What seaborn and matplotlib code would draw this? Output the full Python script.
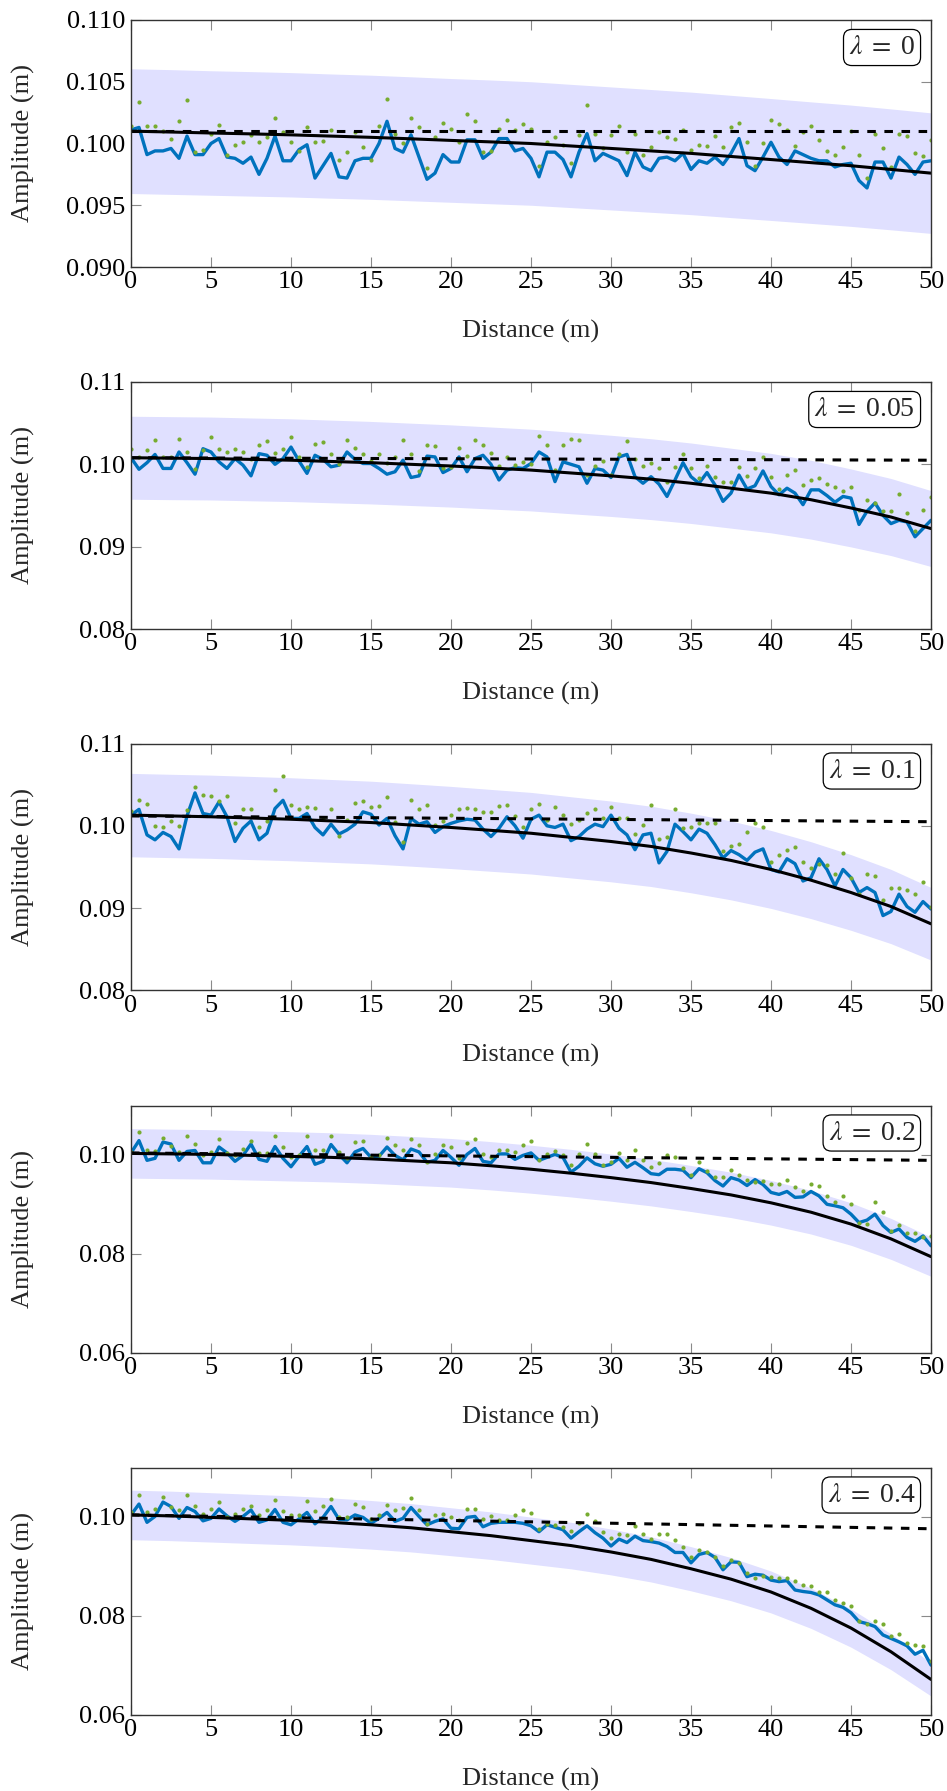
import numpy as np
import pandas as pd
import matplotlib
matplotlib.use("Agg")
import matplotlib.pyplot as plt
import seaborn as sns

# ---------------- data ----------------
DIST = np.linspace(0, 50, 101)          # measurement stations every 0.5 m
CURVE_X = [0, 2.5, 5, 7.5, 10, 12.5, 15, 17.5, 20, 22.5, 25,
           27.5, 30, 32.5, 35, 37.5, 40, 42.5, 45, 47.5, 50]
DASH_X = [0, 50]

LAMBDAS = ["0", "0.05", "0.1", "0.2", "0.4"]

BLUE_0 = [0.1011, 0.1013, 0.0991, 0.0994, 0.0994, 0.0996, 0.0988, 0.1006, 0.0991, 0.0991,
          0.1000, 0.1004, 0.0989, 0.0988, 0.0984, 0.0989, 0.0975, 0.0988, 0.1006, 0.0986,
          0.0986, 0.0995, 0.0999, 0.0972, 0.0982, 0.0992, 0.0973, 0.0972, 0.0986, 0.0988,
          0.0988, 0.1000, 0.1018, 0.0996, 0.0993, 0.1007, 0.0989, 0.0971, 0.0976, 0.0991,
          0.0985, 0.0985, 0.1003, 0.1003, 0.0988, 0.0993, 0.1004, 0.1004, 0.0994, 0.0996,
          0.0988, 0.0973, 0.0993, 0.0993, 0.0987, 0.0973, 0.0993, 0.1008, 0.0986, 0.0992,
          0.0989, 0.0986, 0.0974, 0.0993, 0.0981, 0.0978, 0.0988, 0.0989, 0.0986, 0.0992,
          0.0979, 0.0986, 0.0984, 0.0989, 0.0983, 0.0992, 0.1004, 0.0982, 0.0978, 0.0989,
          0.1001, 0.0989, 0.0983, 0.0994, 0.0991, 0.0988, 0.0986, 0.0986, 0.0981, 0.0983,
          0.0984, 0.0970, 0.0964, 0.0985, 0.0985, 0.0972, 0.0989, 0.0983, 0.0975, 0.0985, 0.0986]
GREEN_0 = [0.1014, 0.1034, 0.1014, 0.1014, 0.1010, 0.1004, 0.1018, 0.1035, 0.0993, 0.0995,
           0.1008, 0.1015, 0.0991, 0.0999, 0.1001, 0.1007, 0.1001, 0.1005, 0.1021, 0.1009,
           0.1001, 0.0994, 0.1013, 0.1001, 0.1002, 0.1011, 0.0987, 0.0993, 0.1009, 0.0997,
           0.0987, 0.1014, 0.1036, 0.1008, 0.1000, 0.1021, 0.1013, 0.0980, 0.1005, 0.1017,
           0.1012, 0.1001, 0.1024, 0.1018, 0.0993, 0.0994, 0.1012, 0.1019, 0.1011, 0.1016,
           0.1012, 0.0982, 0.1001, 0.1005, 0.0999, 0.0984, 0.1007, 0.1031, 0.1008, 0.0996,
           0.1007, 0.1014, 0.0993, 0.1008, 0.0991, 0.0997, 0.1009, 0.1005, 0.1004, 0.1011,
           0.0995, 0.0999, 0.0998, 0.1006, 0.0997, 0.1013, 0.1017, 0.1001, 0.0982, 0.1000,
           0.1019, 0.1016, 0.1011, 0.0998, 0.1009, 0.1014, 0.1003, 0.0994, 0.0991, 0.0997,
           0.1010, 0.0991, 0.0972, 0.1008, 0.0996, 0.0981, 0.1008, 0.1006, 0.0992, 0.0990, 0.1003]
SOLID_0 = [0.1010, 0.10093, 0.10085, 0.10078, 0.1007, 0.1006, 0.1005, 0.10038, 0.10025, 0.10013, 0.1000,
           0.0998, 0.0996, 0.0994, 0.0992, 0.09895, 0.0987, 0.09845, 0.0982, 0.0979, 0.0976]
UPPER_0 = [0.10605, 0.10598, 0.10589, 0.10582, 0.10574, 0.10563, 0.10553, 0.10540, 0.10526, 0.10514, 0.10500,
           0.10479, 0.10458, 0.10437, 0.10416, 0.10390, 0.10364, 0.10337, 0.10311, 0.10280, 0.10248]
LOWER_0 = [0.09595, 0.09588, 0.09581, 0.09574, 0.09567, 0.09557, 0.09548, 0.09536, 0.09524, 0.09512, 0.09500,
           0.09481, 0.09462, 0.09443, 0.09424, 0.09400, 0.09377, 0.09353, 0.09329, 0.09301, 0.09272]
DASHED_0 = [0.1010, 0.1010]

BLUE_1 = [0.1008, 0.0994, 0.1002, 0.1012, 0.0995, 0.0995, 0.1015, 0.1002, 0.0988, 0.1019,
          0.1015, 0.1003, 0.0995, 0.1007, 0.0999, 0.0986, 0.1013, 0.1011, 0.1000, 0.1007,
          0.1021, 0.1004, 0.0989, 0.1011, 0.1006, 0.0997, 0.0999, 0.1015, 0.1006, 0.1001,
          0.1001, 0.0995, 0.0988, 0.0991, 0.1005, 0.0984, 0.0986, 0.1010, 0.1009, 0.0990,
          0.0995, 0.1009, 0.0991, 0.1007, 0.1011, 0.1000, 0.0981, 0.0993, 0.0996, 0.0995,
          0.1001, 0.1015, 0.1009, 0.0979, 0.1003, 0.1000, 0.0997, 0.0977, 0.0995, 0.0993,
          0.0984, 0.1009, 0.1012, 0.0985, 0.0977, 0.0985, 0.0976, 0.0961, 0.0981, 0.1002,
          0.0985, 0.0977, 0.0990, 0.0975, 0.0955, 0.0965, 0.0987, 0.0970, 0.0974, 0.0992,
          0.0973, 0.0963, 0.0971, 0.0965, 0.0951, 0.0969, 0.0969, 0.0962, 0.0954, 0.0961,
          0.0959, 0.0927, 0.0943, 0.0953, 0.0938, 0.0928, 0.0932, 0.0930, 0.0912, 0.0922, 0.0932]
GREEN_1 = [0.1019, 0.1009, 0.1017, 0.1029, 0.1009, 0.1009, 0.1031, 0.1015, 0.0994, 0.1017,
           0.1033, 0.1019, 0.1015, 0.1019, 0.1015, 0.1006, 0.1024, 0.1028, 0.1014, 0.1019,
           0.1033, 0.1009, 0.0997, 0.1025, 0.1027, 0.1013, 0.1001, 0.1029, 0.1020, 0.1012,
           0.1004, 0.1013, 0.1002, 0.1009, 0.1030, 0.1013, 0.0992, 0.1024, 0.1022, 0.0995,
           0.0997, 0.1020, 0.1010, 0.1030, 0.1023, 0.1014, 0.0998, 0.1009, 0.0999, 0.1003,
           0.1000, 0.1035, 0.1023, 0.0993, 0.1024, 0.1031, 0.1030, 0.0987, 0.0998, 0.1004,
           0.0987, 0.1013, 0.1028, 0.1006, 0.0998, 0.1002, 0.0996, 0.0978, 0.0997, 0.1013,
           0.0995, 0.0984, 0.0998, 0.0985, 0.0978, 0.0978, 0.0997, 0.0986, 0.0996, 0.1009,
           0.0985, 0.0970, 0.0987, 0.0993, 0.0975, 0.0981, 0.0984, 0.0976, 0.0972, 0.0968,
           0.0972, 0.0944, 0.0957, 0.0953, 0.0943, 0.0943, 0.0964, 0.0941, 0.0919, 0.0944, 0.0960]
SOLID_1 = [0.1008, 0.10075, 0.1007, 0.1006, 0.1005, 0.10035, 0.1002, 0.1000, 0.0998, 0.09955, 0.0993,
           0.09895, 0.0986, 0.0982, 0.0977, 0.0971, 0.0965, 0.0957, 0.0947, 0.0936, 0.0922]
UPPER_1 = [0.10584, 0.10579, 0.10574, 0.10563, 0.10553, 0.10537, 0.10521, 0.10500, 0.10479, 0.10453, 0.10427,
           0.10390, 0.10353, 0.10311, 0.10259, 0.10196, 0.10133, 0.10049, 0.09944, 0.09828, 0.09681]
LOWER_1 = [0.09576, 0.09571, 0.09567, 0.09557, 0.09548, 0.09533, 0.09519, 0.09500, 0.09481, 0.09457, 0.09434,
           0.09400, 0.09367, 0.09329, 0.09282, 0.09225, 0.09168, 0.09092, 0.08997, 0.08892, 0.08759]
DASHED_1 = [0.1008, 0.1005]

BLUE_2 = [0.1013, 0.1020, 0.0989, 0.0983, 0.0992, 0.0987, 0.0972, 0.1012, 0.1040, 0.1015,
          0.1013, 0.1029, 0.1011, 0.0981, 0.0997, 0.1006, 0.0983, 0.0991, 0.1021, 0.1031,
          0.1009, 0.1009, 0.1015, 0.0998, 0.0989, 0.1002, 0.0990, 0.0995, 0.1002, 0.1017,
          0.1014, 0.1001, 0.1009, 0.0988, 0.0972, 0.1009, 0.1002, 0.1005, 0.0992, 0.0999,
          0.1003, 0.1006, 0.1008, 0.1007, 0.0996, 0.0987, 0.0997, 0.1011, 0.1000, 0.0985,
          0.1008, 0.1013, 0.1000, 0.0998, 0.1002, 0.0982, 0.0987, 0.0996, 0.1002, 0.0999,
          0.1013, 0.0997, 0.0989, 0.0971, 0.0989, 0.0991, 0.0955, 0.0969, 0.1002, 0.0993,
          0.0983, 0.0996, 0.0991, 0.0977, 0.0961, 0.0970, 0.0965, 0.0958, 0.0968, 0.0972,
          0.0947, 0.0944, 0.0960, 0.0954, 0.0933, 0.0937, 0.0960, 0.0947, 0.0927, 0.0947,
          0.0937, 0.0919, 0.0925, 0.0919, 0.0891, 0.0896, 0.0917, 0.0902, 0.0895, 0.0908, 0.0899]
GREEN_2 = [0.1018, 0.1031, 0.1026, 0.1000, 0.0998, 0.1006, 0.1000, 0.1019, 0.1047, 0.1038,
           0.1036, 0.1030, 0.1036, 0.1004, 0.1020, 0.1021, 0.0999, 0.1006, 0.1044, 0.1060,
           0.1025, 0.1020, 0.1023, 0.1022, 0.1008, 0.1020, 0.0988, 0.1007, 0.1028, 0.1030,
           0.1023, 0.1024, 0.1035, 0.1005, 0.0980, 0.1031, 0.1020, 0.1025, 0.1001, 0.1006,
           0.1013, 0.1020, 0.1022, 0.1021, 0.1017, 0.1017, 0.1024, 0.1025, 0.1012, 0.0998,
           0.1021, 0.1027, 0.1007, 0.1023, 0.1013, 0.1002, 0.1007, 0.1016, 0.1020, 0.1009,
           0.1023, 0.1009, 0.1010, 0.0990, 0.1001, 0.1025, 0.0984, 0.0987, 0.1020, 0.0997,
           0.0998, 0.1004, 0.1004, 0.1004, 0.0969, 0.0976, 0.0978, 0.0992, 0.1004, 0.0999,
           0.0956, 0.0964, 0.0971, 0.0974, 0.0956, 0.0949, 0.0954, 0.0953, 0.0942, 0.0967,
           0.0937, 0.0917, 0.0942, 0.0939, 0.0910, 0.0925, 0.0924, 0.0922, 0.0917, 0.0932, 0.0901]
SOLID_2 = [0.1013, 0.1012, 0.1011, 0.10095, 0.1008, 0.1006, 0.1004, 0.1001, 0.0998, 0.09945, 0.0991,
           0.0986, 0.0981, 0.0975, 0.0967, 0.0958, 0.0947, 0.0934, 0.0919, 0.0902, 0.0881]
UPPER_2 = [0.10637, 0.10626, 0.10616, 0.10600, 0.10584, 0.10563, 0.10542, 0.10511, 0.10479, 0.10442, 0.10406,
           0.10353, 0.10301, 0.10238, 0.10154, 0.10059, 0.09944, 0.09807, 0.09650, 0.09471, 0.09251]
LOWER_2 = [0.09624, 0.09614, 0.09605, 0.09590, 0.09576, 0.09557, 0.09538, 0.09510, 0.09481, 0.09448, 0.09415,
           0.09367, 0.09320, 0.09263, 0.09187, 0.09101, 0.08997, 0.08873, 0.08731, 0.08569, 0.08370]
DASHED_2 = [0.1012, 0.1005]

BLUE_3 = [0.1004, 0.1029, 0.0989, 0.0993, 0.1026, 0.1022, 0.0989, 0.1007, 0.1009, 0.0984,
          0.0984, 0.1016, 0.1004, 0.0987, 0.0999, 0.1022, 0.0991, 0.0987, 0.1017, 0.0993,
          0.0976, 0.0997, 0.1017, 0.0981, 0.0987, 0.1021, 0.1001, 0.0984, 0.1006, 0.1013,
          0.0995, 0.0997, 0.1016, 0.0999, 0.0990, 0.1012, 0.1006, 0.0985, 0.0989, 0.1009,
          0.0995, 0.0979, 0.1001, 0.1013, 0.0987, 0.0984, 0.1002, 0.1002, 0.0991, 0.0999,
          0.1004, 0.0989, 0.0995, 0.1001, 0.0995, 0.0965, 0.0977, 0.0994, 0.0982, 0.0977,
          0.0981, 0.0993, 0.0975, 0.0985, 0.0974, 0.0962, 0.0960, 0.0971, 0.0971, 0.0969,
          0.0954, 0.0972, 0.0964, 0.0948, 0.0937, 0.0954, 0.0949, 0.0938, 0.0950, 0.0940,
          0.0924, 0.0920, 0.0926, 0.0914, 0.0915, 0.0926, 0.0917, 0.0900, 0.0897, 0.0893,
          0.0880, 0.0863, 0.0868, 0.0880, 0.0857, 0.0843, 0.0850, 0.0833, 0.0825, 0.0836, 0.0816]
GREEN_3 = [0.1006, 0.1046, 0.1009, 0.1007, 0.1034, 0.1019, 0.1006, 0.1038, 0.1023, 0.0999,
           0.1006, 0.1032, 0.1004, 0.0999, 0.1012, 0.1028, 0.1004, 0.1003, 0.1038, 0.1015,
           0.0995, 0.1000, 0.1038, 0.1009, 0.1009, 0.1038, 0.1005, 0.0993, 0.1026, 0.1029,
           0.0995, 0.0999, 0.1034, 0.1021, 0.1009, 0.1032, 0.1020, 0.0985, 0.1002, 0.1021,
           0.1017, 0.0993, 0.1025, 0.1033, 0.1002, 0.0996, 0.1010, 0.1010, 0.1006, 0.1021,
           0.1028, 0.0989, 0.1001, 0.1007, 0.0999, 0.0979, 0.1001, 0.1022, 0.1001, 0.0979,
           0.0985, 0.1003, 0.0989, 0.1009, 0.0989, 0.0976, 0.0984, 0.0999, 0.0995, 0.0974,
           0.0960, 0.0985, 0.0968, 0.0955, 0.0955, 0.0969, 0.0959, 0.0949, 0.0946, 0.0948,
           0.0942, 0.0942, 0.0950, 0.0935, 0.0927, 0.0942, 0.0938, 0.0917, 0.0905, 0.0917,
           0.0901, 0.0863, 0.0860, 0.0905, 0.0885, 0.0845, 0.0858, 0.0841, 0.0841, 0.0833, 0.0836]
SOLID_3 = [0.1003, 0.1002, 0.1001, 0.0999, 0.0997, 0.0995, 0.0992, 0.0988, 0.0984, 0.0978, 0.0971,
           0.0963, 0.0954, 0.0944, 0.0932, 0.0919, 0.0903, 0.0884, 0.0860, 0.0830, 0.0794]
UPPER_3 = [0.10532, 0.10521, 0.10511, 0.10490, 0.10469, 0.10448, 0.10416, 0.10374, 0.10332, 0.10269, 0.10196,
           0.10112, 0.10017, 0.09912, 0.09786, 0.09650, 0.09482, 0.09282, 0.09030, 0.08715, 0.08337]
LOWER_3 = [0.09529, 0.09519, 0.09510, 0.09491, 0.09472, 0.09453, 0.09424, 0.09386, 0.09348, 0.09291, 0.09225,
           0.09149, 0.09063, 0.08968, 0.08854, 0.08731, 0.08579, 0.08398, 0.08170, 0.07885, 0.07543]
DASHED_3 = [0.1004, 0.0989]

BLUE_4 = [0.1004, 0.1026, 0.0989, 0.1001, 0.1030, 0.1021, 0.0997, 0.1019, 0.1011, 0.0992,
          0.0997, 0.1016, 0.1002, 0.0991, 0.1001, 0.1014, 0.0989, 0.0994, 0.1015, 0.0989,
          0.0984, 0.0996, 0.1009, 0.0986, 0.0999, 0.1021, 0.0995, 0.0994, 0.1004, 0.0999,
          0.0987, 0.0997, 0.1009, 0.0991, 0.0997, 0.1019, 0.1001, 0.0984, 0.0991, 0.0996,
          0.0977, 0.0976, 0.0999, 0.1001, 0.0980, 0.0987, 0.0989, 0.0989, 0.0989, 0.0987,
          0.0982, 0.0970, 0.0984, 0.0979, 0.0974, 0.0957, 0.0970, 0.0982, 0.0968, 0.0957,
          0.0941, 0.0955, 0.0948, 0.0961, 0.0952, 0.0950, 0.0947, 0.0940, 0.0928, 0.0928,
          0.0907, 0.0924, 0.0928, 0.0918, 0.0893, 0.0909, 0.0908, 0.0879, 0.0884, 0.0882,
          0.0872, 0.0869, 0.0871, 0.0852, 0.0849, 0.0847, 0.0842, 0.0832, 0.0822, 0.0817,
          0.0806, 0.0788, 0.0784, 0.0778, 0.0761, 0.0754, 0.0747, 0.0739, 0.0722, 0.0730, 0.0700]
GREEN_4 = [0.1010, 0.1045, 0.1009, 0.1017, 0.1040, 0.1021, 0.1013, 0.1044, 0.1022, 0.1005,
           0.1017, 0.1030, 0.0999, 0.1006, 0.1016, 0.1022, 0.1003, 0.1013, 0.1035, 0.1012,
           0.1003, 0.1003, 0.1033, 0.1011, 0.1022, 0.1037, 0.1000, 0.1000, 0.1026, 0.1020,
           0.0995, 0.1003, 0.1024, 0.1014, 0.1019, 0.1039, 0.1013, 0.0985, 0.1004, 0.1005,
           0.1000, 0.0993, 0.1017, 0.1017, 0.0995, 0.1001, 0.0993, 0.0994, 0.1003, 0.1013,
           0.1007, 0.0976, 0.0986, 0.0984, 0.0980, 0.0972, 0.0987, 0.1006, 0.0992, 0.0969,
           0.0958, 0.0965, 0.0963, 0.0982, 0.0965, 0.0956, 0.0966, 0.0966, 0.0953, 0.0939,
           0.0918, 0.0934, 0.0929, 0.0918, 0.0901, 0.0913, 0.0907, 0.0887, 0.0876, 0.0880,
           0.0879, 0.0877, 0.0877, 0.0871, 0.0863, 0.0861, 0.0847, 0.0847, 0.0832, 0.0826,
           0.0820, 0.0789, 0.0784, 0.0789, 0.0783, 0.0759, 0.0763, 0.0744, 0.0741, 0.0739, 0.0709]
SOLID_4 = [0.1004, 0.1002, 0.0999, 0.0996, 0.0993, 0.0989, 0.0984, 0.0978, 0.0970, 0.0962, 0.0952,
           0.0942, 0.0929, 0.0914, 0.0895, 0.0874, 0.0848, 0.0815, 0.0775, 0.0727, 0.0671]
UPPER_4 = [0.10542, 0.10521, 0.10490, 0.10458, 0.10427, 0.10385, 0.10332, 0.10269, 0.10185, 0.10101, 0.09996,
           0.09891, 0.09755, 0.09597, 0.09398, 0.09177, 0.08904, 0.08558, 0.08138, 0.07634, 0.07046]
LOWER_4 = [0.09538, 0.09519, 0.09491, 0.09462, 0.09434, 0.09396, 0.09348, 0.09291, 0.09215, 0.09139, 0.09044,
           0.08949, 0.08826, 0.08683, 0.08503, 0.08303, 0.08056, 0.07743, 0.07363, 0.06907, 0.06375]
DASHED_4 = [0.1004, 0.0976]

X_TICKS = [0, 5, 10, 15, 20, 25, 30, 35, 40, 45, 50]
Y_TICKS = [[0.090, 0.095, 0.100, 0.105, 0.110],
           [0.08, 0.09, 0.10, 0.11],
           [0.08, 0.09, 0.10, 0.11],
           [0.06, 0.08, 0.10],
           [0.06, 0.08, 0.10]]
Y_LIMS = [(0.090, 0.110), (0.08, 0.11), (0.08, 0.11), (0.06, 0.11), (0.06, 0.11)]
Y_FMT = ["{:.3f}", "{:.2f}", "{:.2f}", "{:.2f}", "{:.2f}"]

BLUES = [BLUE_0, BLUE_1, BLUE_2, BLUE_3, BLUE_4]
GREENS = [GREEN_0, GREEN_1, GREEN_2, GREEN_3, GREEN_4]
SOLIDS = [SOLID_0, SOLID_1, SOLID_2, SOLID_3, SOLID_4]
UPPERS = [UPPER_0, UPPER_1, UPPER_2, UPPER_3, UPPER_4]
LOWERS = [LOWER_0, LOWER_1, LOWER_2, LOWER_3, LOWER_4]
DASHEDS = [DASHED_0, DASHED_1, DASHED_2, DASHED_3, DASHED_4]

# ---------------- style ----------------
sns.set_theme(style="ticks")
plt.rcParams["font.family"] = ["Liberation Serif", "DejaVu Serif"]
plt.rcParams["mathtext.fontset"] = "stix"

W, H = 947, 1791
FS = 19
fig = plt.figure(figsize=(W / 100, H / 100), dpi=100)

AX_LEFT, AX_RIGHT = 131, 931
TOPS = [20, 382, 743.5, 1105.5, 1467.5]
AX_H = 247

BAND_C = "#E0E0FF"
BLUE_C = "#0072BD"
GREEN_C = "#77AC30"

for i in range(5):
    top = TOPS[i]
    ax = fig.add_axes([AX_LEFT / W, 1 - (top + AX_H) / H, (AX_RIGHT - AX_LEFT) / W, AX_H / H])
    ax.fill_between(CURVE_X, LOWERS[i], UPPERS[i], color=BAND_C, lw=0, zorder=1)
    sns.lineplot(x=DIST, y=BLUES[i], ax=ax, color=BLUE_C, lw=2.4, errorbar=None, zorder=3)
    sns.scatterplot(x=DIST, y=GREENS[i], ax=ax, color=GREEN_C, s=9, linewidth=0, zorder=4)
    sns.lineplot(x=CURVE_X, y=SOLIDS[i], ax=ax, color="black", lw=2.2, errorbar=None, zorder=5)
    sns.lineplot(x=DASH_X, y=DASHEDS[i], ax=ax, color="black", lw=2.2, errorbar=None, zorder=5,
                 linestyle=(0, (2.8, 2.8)))

    ax.set_xlim(0, 50)
    ax.set_ylim(*Y_LIMS[i])
    ax.set_xticks(X_TICKS)
    ax.set_xticklabels([str(t) for t in X_TICKS])
    ax.set_yticks(Y_TICKS[i])
    ax.set_yticklabels([Y_FMT[i].format(t) for t in Y_TICKS[i]])
    ax.tick_params(direction="in", length=7.5, width=0.8, color="#8a8a8a",
                   top=True, right=True, labelsize=FS, labelcolor="black")
    ax.tick_params(axis="x", pad=3)
    ax.tick_params(axis="y", pad=4)
    for s in ax.spines.values():
        s.set_linewidth(1.0)
        s.set_color("#333333")
        s.set_zorder(6)
    ax.set_xlabel("Distance (m)", fontsize=FS)
    ax.set_ylabel("Amplitude (m)", fontsize=FS)
    ax.xaxis.set_label_coords(0.5, -0.215)
    ax.yaxis.set_label_coords(-0.12, 0.5)
    ax.xaxis.label.set_va("top")

    ax.annotate(r"$\lambda\;=\;$" + LAMBDAS[i], xy=(1, 1), xycoords="axes fraction",
                xytext=(-16, -15), textcoords="offset pixels", ha="right", va="top",
                fontsize=FS + 1, zorder=7,
                bbox=dict(boxstyle="round,pad=0.2,rounding_size=0.3", fc="white", ec="black", lw=0.9))

fig.savefig("out.png", dpi=100)
